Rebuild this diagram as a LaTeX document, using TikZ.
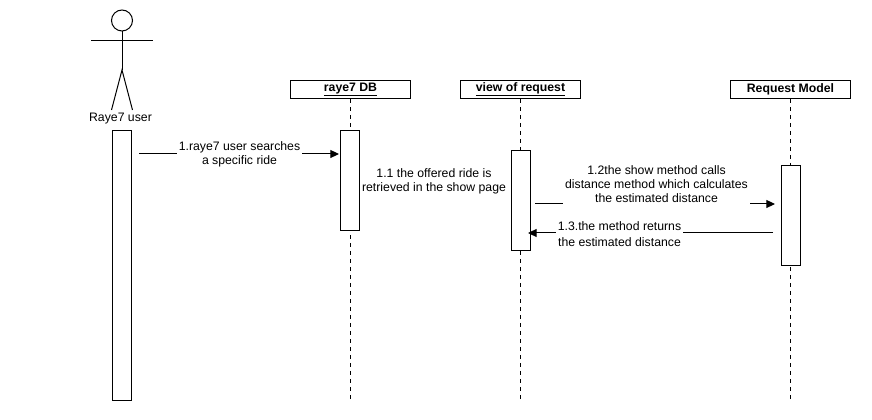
\documentclass[tikz,border=0pt]{standalone}
\usepackage{fontspec}
\setmainfont{Liberation Sans}
\usetikzlibrary{arrows.meta}
\tikzset{
  x=0.75pt,y=-0.75pt,
  every path/.style={line width=0.75pt},
  headbox/.style={draw,fill=white,minimum width=90pt,minimum height=13.5pt,inner sep=0pt,font=\fontsize{9.2}{10.5}\selectfont\bfseries},
  actbox/.style={draw,fill=white,minimum width=14.25pt,inner sep=0pt,anchor=north},
  lifeline/.style={dash pattern=on 3pt off 3pt},
  msg/.style={-{Triangle[length=6.5pt,width=6pt]}},
  lbl/.style={fill=white,align=center,inner xsep=1.5pt,inner ysep=1pt,font=\fontsize{9.2}{10.5}\selectfont},
  lblwide/.style={lbl,font=\fontsize{9.2}{12}\selectfont}
}
\begin{document}
\begin{tikzpicture}
\useasboundingbox (0,0) rectangle (872,420);
% lifeline heads
\node[headbox] (db) at (350.5,89.5) {\underline{raye7 DB}};
\node[headbox] (view) at (520.5,89.5) {\underline{view of request}};
\node[headbox] (model) at (790.5,89.5) {Request Model};
% lifeline ends
\coordinate (dbend) at (350.5,400);
\coordinate (viewend) at (520.5,400);
\coordinate (modelend) at (790.5,400);
\draw[lifeline] (db.south) -- (dbend);
\draw[lifeline] (view.south) -- (viewend);
\draw[lifeline] (model.south) -- (modelend);
% actor
\node[circle,draw,minimum size=15.75pt,inner sep=0pt] (head) at (122,20.5) {};
\coordinate (armL) at (91,40.5);
\coordinate (armR) at (153,40.5);
\coordinate (hip) at (122,70);
\coordinate (legL) at (111.5,110);
\coordinate (legR) at (132.5,110);
\draw (armL) -- (armR);
\draw (head.south) -- (hip);
\draw (legL) -- (hip) -- (legR);
\node[font=\fontsize{9.2}{11}\selectfont,inner sep=0pt] (actorlabel) at (120.5,118.5) {Raye7 user};
% activations
\node[actbox,minimum height=202.5pt] (a0) at (122,130.5) {};
\node[actbox,minimum height=75pt] (a1) at (350.25,130.5) {};
\node[actbox,minimum height=75pt] (a2) at (520.75,150.5) {};
\node[actbox,minimum height=75pt] (a3) at (790.75,165.5) {};
% messages
\coordinate (m0s) at (139,154);
\coordinate (m0e) at (339,154);
\draw[msg] (m0s) -- (m0e);
\node[lbl] (l0) at (239.5,154.5) {1.raye7 user searches\\a specific ride};
\node[lbl] (l1) at (434,181.5) {1.1 the offered ride is\\retrieved in the show page};
\coordinate (m2s) at (535,204);
\coordinate (m2e) at (775,204);
\draw[msg] (m2s) -- (m2e);
\node[lbl] (l2) at (656.5,184) {1.2the show method calls\\distance method which calculates\\the estimated distance};
\coordinate (m3s) at (773,233);
\coordinate (m3e) at (528,233);
\draw[msg] (m3s) -- (m3e);
\node[lblwide] (l3) at (619.5,234.5) {1.3.the method returns\\the estimated distance};
\end{tikzpicture}
\end{document}
